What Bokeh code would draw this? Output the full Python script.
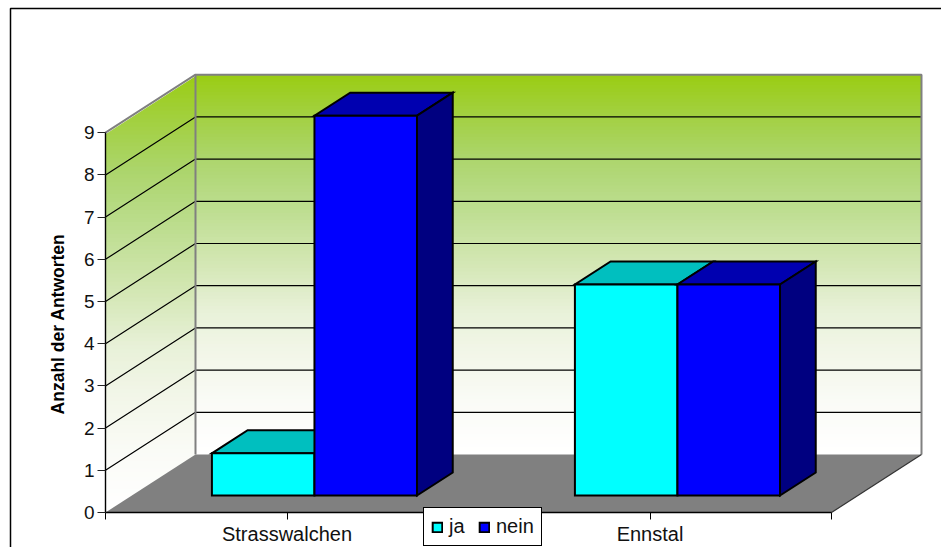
from math import pi

from bokeh.core.properties import value
from bokeh.embed import file_html
from bokeh.models import BoxAnnotation, FixedTicker, Legend, LegendItem, Range1d
from bokeh.plotting import figure
from bokeh.resources import INLINE

# Survey answers per region
categories = ["Strasswalchen", "Ennstal"]
ja = [1, 5]
nein = [9, 5]
y_ticks = [0, 1, 2, 3, 4, 5, 6, 7, 8, 9]
y_title = "Anzahl der Antworten"

# Scale of the pseudo-3D box, in screen pixels
PX_PER_VALUE = 42.2
PX_PER_CATEGORY = 363.0
DEPTH_X = 90.0 / PX_PER_CATEGORY      # shift of the back wall, in category units
DEPTH_Y = 58.0 / PX_PER_VALUE         # shift of the back wall, in value units
AXIS_MAX = 9
N_CATEGORIES = len(categories)

# Bars occupy this slice of the depth, and this width per series
BAR_NEAR, BAR_FAR = 0.293, 0.69
BAR_WIDTH = 0.2825
GROUP_SHIFT = 0.003

# Wall shading: fraction from the top of a wall to its bottom, with its colour
WALL_STOPS = [
    (0.00, (154, 205, 18)),
    (0.10, (162, 208, 62)),
    (0.22, (172, 213, 108)),
    (0.33, (186, 220, 138)),
    (0.50, (212, 231, 181)),
    (0.62, (232, 241, 216)),
    (0.73, (242, 246, 232)),
    (0.86, (250, 251, 246)),
    (1.00, (255, 255, 255)),
]
FLOOR = "#808080"
WALL_EDGE = "#808080"
JA_COLORS = ("#00ffff", "#00bfbf", "#008080")
NEIN_COLORS = ("#0000ff", "#0000b0", "#000080")


def wall_color(t):
    for (t0, c0), (t1, c1) in zip(WALL_STOPS, WALL_STOPS[1:]):
        if t <= t1:
            f = (t - t0) / (t1 - t0)
            r, g, b = (round(a + (b - a) * f) for a, b in zip(c0, c1))
            return f"#{r:02x}{g:02x}{b:02x}"
    return "#ffffff"


p = figure(
    width=941,
    height=547,
    output_backend="svg",
    toolbar_location=None,
    x_range=Range1d(-105 / PX_PER_CATEGORY, 836 / PX_PER_CATEGORY),
    y_range=Range1d(-35 / PX_PER_VALUE, 512 / PX_PER_VALUE),
    min_border=0,
    outline_line_color=None,
    background_fill_color="white",
    border_fill_color="white",
)
p.grid.visible = False


def shade_wall(x0, x1, y_bottom, y_top, steps=110):
    """Paint top-down bands, each running to the wall's foot so no seams show."""
    for i in range(steps):
        t = i / steps
        p.quad(left=x0, right=x1, bottom=y_bottom, top=y_top - (y_top - y_bottom) * t,
               fill_color=wall_color(t + 0.5 / steps), line_color=None)


# Side wall and its upper cut-off, then the back wall
shade_wall(0, DEPTH_X, 0, AXIS_MAX + DEPTH_Y)
p.patch([0, DEPTH_X, 0], [AXIS_MAX, AXIS_MAX + DEPTH_Y, AXIS_MAX + DEPTH_Y],
        fill_color="white", line_color="white", line_width=2.5)
shade_wall(DEPTH_X, DEPTH_X + N_CATEGORIES, DEPTH_Y, AXIS_MAX + DEPTH_Y)

# Floor
p.patch([0, DEPTH_X, DEPTH_X + N_CATEGORIES, N_CATEGORIES],
        [0, DEPTH_Y, DEPTH_Y, 0], fill_color=FLOOR, line_color=None)

# Gridlines on both walls
for v in y_ticks[1:-1]:
    p.line([0, DEPTH_X, DEPTH_X + N_CATEGORIES], [v, v + DEPTH_Y, v + DEPTH_Y],
           line_color="black", line_width=1.2)

# Wall edges
p.line([0, DEPTH_X, DEPTH_X + N_CATEGORIES, DEPTH_X + N_CATEGORIES],
       [AXIS_MAX, AXIS_MAX + DEPTH_Y, AXIS_MAX + DEPTH_Y, DEPTH_Y],
       line_color=WALL_EDGE, line_width=2)
p.line([DEPTH_X, DEPTH_X], [DEPTH_Y, AXIS_MAX + DEPTH_Y], line_color=WALL_EDGE, line_width=2)
p.line([N_CATEGORIES, DEPTH_X + N_CATEGORIES], [0, DEPTH_Y], line_color="#333333", line_width=1.2)


def bar_3d(x0, x1, val, colors, with_side):
    """Draw one bar as top, optional side, and front; the front is returned for the legend."""
    dn_x, dn_y = DEPTH_X * BAR_NEAR, DEPTH_Y * BAR_NEAR
    df_x, df_y = DEPTH_X * BAR_FAR, DEPTH_Y * BAR_FAR
    front, top, side = colors
    style = dict(line_color="black", line_width=2, line_join="miter")
    p.patch([x0 + dn_x, x1 + dn_x, x1 + df_x, x0 + df_x],
            [val + dn_y, val + dn_y, val + df_y, val + df_y], fill_color=top, **style)
    if with_side:
        p.patch([x1 + dn_x, x1 + df_x, x1 + df_x, x1 + dn_x],
                [dn_y, df_y, val + df_y, val + dn_y], fill_color=side, **style)
    return p.quad(left=x0 + dn_x, right=x1 + dn_x, bottom=dn_y, top=val + dn_y,
                  fill_color=front, **style)


ja_front = nein_front = None
for i, (a, b) in enumerate(zip(ja, nein)):
    centre = i + 0.5 + GROUP_SHIFT
    ja_front = bar_3d(centre - BAR_WIDTH, centre, a, JA_COLORS, False)
    nein_front = bar_3d(centre, centre + BAR_WIDTH, b, NEIN_COLORS, True)

# Value axis, pinned to the front corner of the box
p.yaxis.fixed_location = 0
p.yaxis.bounds = (0, AXIS_MAX)
p.yaxis.ticker = FixedTicker(ticks=y_ticks)
p.yaxis.minor_tick_line_color = None
p.yaxis.major_tick_in = 0
p.yaxis.major_tick_out = 8
p.yaxis.major_tick_line_color = "#222222"
p.yaxis.axis_line_color = "black"
p.yaxis.axis_line_width = 1.4
p.yaxis.major_label_text_font = "Liberation Sans"
p.yaxis.major_label_text_font_size = "19px"
p.yaxis.major_label_text_color = "#111111"
p.yaxis.major_label_standoff = 3

p.text(x=[-48 / PX_PER_CATEGORY], y=[188.5 / PX_PER_VALUE], text=[y_title], angle=pi / 2,
       text_font=value("Liberation Sans"), text_font_style="bold", text_font_size="17.5px",
       text_align="center", text_baseline="middle", text_color="black")

# Category axis along the front of the floor
p.xaxis.fixed_location = 0
p.xaxis.bounds = (0, N_CATEGORIES)
p.xaxis.ticker = FixedTicker(ticks=[0, 0.5, 1, 1.5, 2])
p.xaxis.major_label_overrides = {0: "", 0.5: categories[0], 1: "", 1.5: categories[1], 2: ""}
p.xaxis.minor_tick_line_color = None
p.xaxis.major_tick_in = 0
p.xaxis.major_tick_out = 7
p.xaxis.axis_line_color = "black"
p.xaxis.axis_line_width = 1.6
p.xaxis.major_label_text_font = "Liberation Sans"
p.xaxis.major_label_text_font_size = "20px"
p.xaxis.major_label_text_color = "#111111"
p.xaxis.major_label_standoff = 3

# Legend straddling the lower edge
legend = Legend(
    items=[LegendItem(label="ja", renderers=[ja_front]), LegendItem(label="nein", renderers=[nein_front])],
    orientation="horizontal",
    location=(423, 1),
    glyph_width=12,
    glyph_height=12,
    label_text_font="Liberation Sans",
    label_text_font_size="20px",
    label_height=19,
    label_text_color="#111111",
    border_line_color="black",
    border_line_width=1,
    border_line_alpha=1,
    background_fill_alpha=1,
    padding=7,
    margin=0,
    spacing=9,
    label_standoff=6,
)
p.add_layout(legend, "center")

# Chart-area border, running off the right and bottom of the page
p.add_layout(BoxAnnotation(left=10, right=1000, top=539, bottom=-100,
                           left_units="screen", right_units="screen",
                           top_units="screen", bottom_units="screen",
                           fill_alpha=0, line_color="black", line_alpha=1, line_width=1.5,
                           level="overlay"))

open("out.html", "w").write(file_html(p, INLINE))
